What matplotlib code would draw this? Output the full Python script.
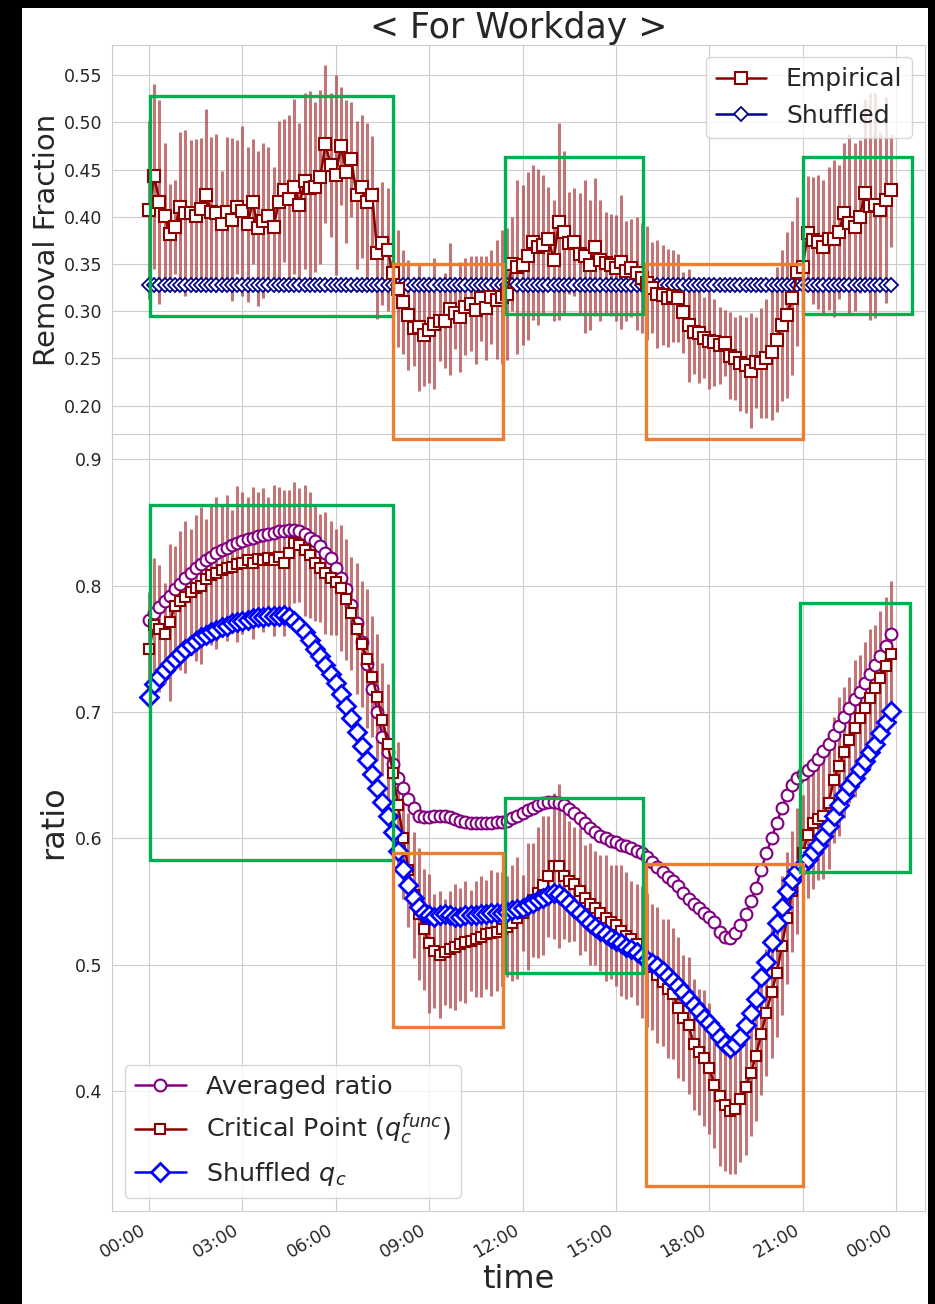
import numpy as np
import matplotlib
matplotlib.use("Agg")
import matplotlib.pyplot as plt
import seaborn as sns
from matplotlib.patches import Rectangle

# 10-minute slots over one workday
n_slots = 144
tick_hours = [0, 3, 6, 9, 12, 15, 18, 21, 24]
tick_labels = ["00:00", "03:00", "06:00", "09:00", "12:00", "15:00", "18:00", "21:00", "00:00"]

# top panel: removal fraction
empirical = [
    0.407, 0.443, 0.416, 0.401, 0.382, 0.389, 0.410, 0.404, 0.404, 0.401, 0.408, 0.423,
    0.405, 0.404, 0.392, 0.405, 0.397, 0.410, 0.406, 0.392, 0.416, 0.388, 0.396, 0.401,
    0.389, 0.416, 0.428, 0.419, 0.432, 0.413, 0.438, 0.430, 0.432, 0.442, 0.477, 0.455,
    0.444, 0.475, 0.448, 0.461, 0.423, 0.432, 0.416, 0.423, 0.362, 0.372, 0.365, 0.340,
    0.324, 0.310, 0.296, 0.282, 0.283, 0.275, 0.280, 0.287, 0.290, 0.290, 0.302, 0.298,
    0.294, 0.305, 0.308, 0.301, 0.314, 0.303, 0.315, 0.312, 0.315, 0.318, 0.350, 0.347,
    0.349, 0.359, 0.373, 0.368, 0.370, 0.377, 0.354, 0.395, 0.384, 0.372, 0.373, 0.361,
    0.358, 0.349, 0.368, 0.354, 0.351, 0.349, 0.346, 0.352, 0.343, 0.346, 0.340, 0.335,
    0.330, 0.325, 0.318, 0.317, 0.314, 0.316, 0.314, 0.299, 0.285, 0.278, 0.277, 0.272,
    0.269, 0.267, 0.264, 0.266, 0.253, 0.250, 0.245, 0.243, 0.237, 0.246, 0.245, 0.250,
    0.257, 0.270, 0.285, 0.296, 0.314, 0.342, 0.347, 0.383, 0.375, 0.373, 0.368, 0.377,
    0.377, 0.384, 0.404, 0.393, 0.389, 0.400, 0.425, 0.411, 0.412, 0.407, 0.418, 0.428,
]
empirical_err = [
    0.094, 0.098, 0.108, 0.077, 0.053, 0.050, 0.080, 0.088, 0.077, 0.081, 0.075, 0.091,
    0.080, 0.084, 0.057, 0.080, 0.086, 0.071, 0.090, 0.082, 0.066, 0.082, 0.082, 0.073,
    0.064, 0.086, 0.076, 0.089, 0.093, 0.086, 0.093, 0.103, 0.090, 0.092, 0.084, 0.076,
    0.106, 0.063, 0.076, 0.061, 0.078, 0.076, 0.083, 0.063, 0.070, 0.065, 0.065, 0.050,
    0.062, 0.055, 0.058, 0.040, 0.067, 0.054, 0.056, 0.069, 0.043, 0.050, 0.070, 0.038,
    0.058, 0.051, 0.050, 0.057, 0.045, 0.055, 0.050, 0.063, 0.071, 0.070, 0.050, 0.092,
    0.085, 0.089, 0.082, 0.083, 0.074, 0.055, 0.064, 0.104, 0.086, 0.054, 0.057, 0.064,
    0.081, 0.069, 0.073, 0.064, 0.054, 0.054, 0.056, 0.071, 0.053, 0.052, 0.060, 0.058,
    0.060, 0.048, 0.057, 0.053, 0.052, 0.049, 0.047, 0.043, 0.060, 0.044, 0.053, 0.043,
    0.051, 0.046, 0.041, 0.035, 0.046, 0.044, 0.051, 0.051, 0.061, 0.048, 0.058, 0.063,
    0.072, 0.077, 0.080, 0.088, 0.082, 0.079, 0.067, 0.060, 0.067, 0.071, 0.071, 0.076,
    0.083, 0.071, 0.074, 0.095, 0.089, 0.081, 0.100, 0.120, 0.119, 0.083, 0.109, 0.060,
]
shuffled_frac = [0.328] * n_slots

# bottom panel: ratio
avg_ratio = [
    0.773, 0.778, 0.783, 0.788, 0.792, 0.797, 0.801, 0.806, 0.810, 0.814, 0.817, 0.820,
    0.823, 0.826, 0.828, 0.830, 0.832, 0.834, 0.835, 0.837, 0.838, 0.839, 0.840, 0.841,
    0.842, 0.843, 0.843, 0.844, 0.844, 0.843, 0.841, 0.838, 0.835, 0.831, 0.826, 0.822,
    0.814, 0.806, 0.797, 0.785, 0.770, 0.755, 0.738, 0.718, 0.700, 0.680, 0.668, 0.659,
    0.648, 0.640, 0.631, 0.624, 0.618, 0.617, 0.617, 0.618, 0.618, 0.618, 0.617, 0.615,
    0.614, 0.613, 0.612, 0.612, 0.612, 0.612, 0.612, 0.613, 0.613, 0.614, 0.616, 0.618,
    0.620, 0.622, 0.624, 0.626, 0.628, 0.629, 0.629, 0.628, 0.626, 0.623, 0.620, 0.616,
    0.612, 0.608, 0.605, 0.602, 0.600, 0.598, 0.597, 0.595, 0.594, 0.592, 0.590, 0.588,
    0.585, 0.581, 0.577, 0.573, 0.569, 0.566, 0.562, 0.557, 0.552, 0.548, 0.545, 0.541,
    0.538, 0.534, 0.526, 0.522, 0.521, 0.525, 0.531, 0.540, 0.550, 0.561, 0.575, 0.588,
    0.600, 0.612, 0.624, 0.634, 0.642, 0.648, 0.651, 0.654, 0.658, 0.663, 0.669, 0.675,
    0.682, 0.689, 0.696, 0.703, 0.710, 0.716, 0.723, 0.730, 0.737, 0.744, 0.752, 0.762,
]
critical = [
    0.750, 0.769, 0.766, 0.762, 0.771, 0.784, 0.788, 0.791, 0.795, 0.798, 0.800, 0.805,
    0.808, 0.810, 0.812, 0.814, 0.815, 0.817, 0.818, 0.820, 0.818, 0.821, 0.820, 0.822,
    0.820, 0.823, 0.818, 0.826, 0.834, 0.832, 0.828, 0.824, 0.818, 0.814, 0.810, 0.806,
    0.803, 0.798, 0.789, 0.778, 0.766, 0.754, 0.742, 0.728, 0.712, 0.694, 0.675, 0.652,
    0.626, 0.600, 0.575, 0.555, 0.540, 0.528, 0.517, 0.511, 0.508, 0.510, 0.512, 0.514,
    0.516, 0.518, 0.519, 0.520, 0.522, 0.524, 0.525, 0.526, 0.528, 0.530, 0.533, 0.537,
    0.541, 0.546, 0.551, 0.557, 0.563, 0.570, 0.578, 0.578, 0.570, 0.566, 0.564, 0.558,
    0.553, 0.548, 0.545, 0.541, 0.537, 0.534, 0.531, 0.527, 0.523, 0.520, 0.516, 0.510,
    0.504, 0.498, 0.492, 0.486, 0.481, 0.477, 0.466, 0.458, 0.452, 0.437, 0.431, 0.426,
    0.418, 0.405, 0.396, 0.389, 0.384, 0.386, 0.394, 0.403, 0.414, 0.428, 0.445, 0.462,
    0.478, 0.493, 0.515, 0.537, 0.558, 0.574, 0.588, 0.603, 0.612, 0.615, 0.618, 0.628,
    0.646, 0.657, 0.668, 0.678, 0.687, 0.695, 0.703, 0.711, 0.719, 0.727, 0.736, 0.746,
]
critical_err = [
    0.045, 0.053, 0.050, 0.040, 0.062, 0.047, 0.055, 0.060, 0.050, 0.058, 0.062, 0.048,
    0.055, 0.060, 0.052, 0.058, 0.045, 0.062, 0.056, 0.050, 0.060, 0.053, 0.057, 0.048,
    0.060, 0.055, 0.058, 0.050, 0.048, 0.045, 0.052, 0.050, 0.046, 0.043, 0.048, 0.045,
    0.042, 0.050, 0.048, 0.045, 0.052, 0.050, 0.055, 0.048, 0.050, 0.045, 0.047, 0.050,
    0.050, 0.048, 0.045, 0.050, 0.052, 0.048, 0.055, 0.045, 0.050, 0.042, 0.046, 0.050,
    0.045, 0.048, 0.040, 0.046, 0.048, 0.043, 0.050, 0.047, 0.045, 0.040, 0.046, 0.048,
    0.030, 0.050, 0.045, 0.052, 0.055, 0.048, 0.058, 0.065, 0.050, 0.048, 0.045, 0.050,
    0.042, 0.048, 0.045, 0.046, 0.050, 0.045, 0.048, 0.052, 0.050, 0.046, 0.048, 0.052,
    0.053, 0.050, 0.054, 0.050, 0.055, 0.052, 0.056, 0.050, 0.054, 0.052, 0.050, 0.054,
    0.052, 0.050, 0.055, 0.052, 0.050, 0.052, 0.050, 0.054, 0.050, 0.052, 0.048, 0.050,
    0.052, 0.050, 0.055, 0.052, 0.048, 0.050, 0.046, 0.050, 0.052, 0.048, 0.050, 0.052,
    0.050, 0.055, 0.052, 0.050, 0.054, 0.050, 0.052, 0.055, 0.050, 0.053, 0.055, 0.058,
]
shuffled_qc = [
    0.712, 0.722, 0.728, 0.733, 0.738, 0.742, 0.746, 0.750, 0.753, 0.756, 0.759, 0.761,
    0.763, 0.765, 0.767, 0.768, 0.770, 0.771, 0.772, 0.773, 0.774, 0.775, 0.775, 0.776,
    0.776, 0.776, 0.777, 0.775, 0.772, 0.768, 0.763, 0.757, 0.750, 0.744, 0.737, 0.730,
    0.723, 0.714, 0.705, 0.695, 0.684, 0.673, 0.662, 0.651, 0.640, 0.629, 0.618, 0.605,
    0.590, 0.576, 0.563, 0.553, 0.546, 0.541, 0.539, 0.538, 0.539, 0.540, 0.539, 0.538,
    0.538, 0.539, 0.539, 0.539, 0.540, 0.540, 0.541, 0.541, 0.541, 0.542, 0.543, 0.544,
    0.545, 0.547, 0.549, 0.551, 0.553, 0.555, 0.557, 0.556, 0.553, 0.549, 0.545, 0.541,
    0.537, 0.533, 0.530, 0.527, 0.524, 0.521, 0.519, 0.517, 0.514, 0.512, 0.510, 0.507,
    0.504, 0.501, 0.499, 0.495, 0.491, 0.487, 0.483, 0.478, 0.473, 0.468, 0.463, 0.458,
    0.454, 0.449, 0.443, 0.437, 0.434, 0.437, 0.443, 0.452, 0.462, 0.473, 0.490, 0.502,
    0.518, 0.533, 0.546, 0.558, 0.567, 0.574, 0.579, 0.584, 0.589, 0.595, 0.602, 0.610,
    0.618, 0.626, 0.634, 0.641, 0.648, 0.655, 0.661, 0.668, 0.675, 0.683, 0.692, 0.701,
]

# highlight boxes (hours, value): x0, x1, y0, y1
top_green = [(0.03, 7.84, 0.295, 0.528), (11.44, 15.87, 0.297, 0.463), (21.0, 24.5, 0.297, 0.463)]
top_orange = [(7.84, 11.37, 0.165, 0.350), (15.97, 21.01, 0.165, 0.350)]
bot_green = [(0.03, 7.84, 0.583, 0.864), (11.44, 15.87, 0.493, 0.632), (20.91, 24.45, 0.573, 0.786)]
bot_orange = [(7.84, 11.37, 0.451, 0.588), (15.97, 21.01, 0.325, 0.580)]

GREEN = "#00b050"
ORANGE = "#ed7d31"
BAR = "#b04848"


def add_boxes(ax, boxes, color):
    for x0, x1, y0, y1 in boxes:
        ax.add_patch(Rectangle((x0, y0), x1 - x0, y1 - y0, fill=False,
                               edgecolor=color, linewidth=2.4, clip_on=False, zorder=6))


def main():
    sns.set_style("whitegrid")
    plt.rcParams["font.family"] = ["DejaVu Sans"]

    hours = np.arange(n_slots) / 6.0

    fig = plt.figure(figsize=(9.35, 13.04), dpi=100, facecolor="black")
    fig.patches.append(Rectangle((22 / 935, 0), 906 / 935, 1296 / 1304,
                                 transform=fig.transFigure, facecolor="white",
                                 edgecolor="none", zorder=-1))

    ax1 = fig.add_axes([0.1198, 0.6672, 0.8695, 0.2983])
    ax2 = fig.add_axes([0.1198, 0.0713, 0.8695, 0.5959], sharex=ax1)
    ax1.set_zorder(3)  # let the top boxes spill over the lower panel

    # top panel
    ax1.errorbar(hours, empirical, yerr=empirical_err, fmt="none",
                 ecolor=BAR, elinewidth=2.2, alpha=0.75, zorder=2)
    ax1.plot(hours, empirical, "-s", color="#8b0000", lw=1.8, ms=8,
             mfc="white", mec="#8b0000", mew=1.5, label="Empirical", zorder=4)
    ax1.plot(hours, shuffled_frac, "-D", color="#00008b", lw=1.8, ms=7,
             mfc="white", mec="#00008b", mew=1.3, label="Shuffled", zorder=3)
    add_boxes(ax1, top_green, GREEN)
    add_boxes(ax1, top_orange, ORANGE)
    ax1.set_ylim(0.17, 0.582)
    ax1.set_yticks([0.20, 0.25, 0.30, 0.35, 0.40, 0.45, 0.50, 0.55])
    ax1.set_ylabel("Removal Fraction", fontsize=21, labelpad=2)
    ax1.set_title("< For Workday >", fontsize=25, pad=3)
    ax1.legend(loc="upper right", fontsize=18, frameon=True)
    ax1.tick_params(axis="x", labelbottom=False)
    ax1.tick_params(axis="y", labelsize=12.5)

    # bottom panel
    ax2.errorbar(hours, critical, yerr=critical_err, fmt="none",
                 ecolor=BAR, elinewidth=2.2, alpha=0.75, zorder=2)
    ax2.plot(hours, avg_ratio, "-o", color="purple", lw=1.8, ms=8.5,
             mfc="white", mec="purple", mew=1.5, label="Averaged ratio", zorder=3)
    ax2.plot(hours, critical, "-s", color="#8b0000", lw=1.8, ms=7.5,
             mfc="white", mec="#8b0000", mew=1.5,
             label=r"Critical Point ($q_c^{func}$)", zorder=4)
    ax2.plot(hours, shuffled_qc, "-D", color="blue", lw=1.8, ms=9,
             mfc="white", mec="blue", mew=2, label=r"Shuffled $q_c$", zorder=5)
    add_boxes(ax2, bot_green, GREEN)
    add_boxes(ax2, bot_orange, ORANGE)
    ax2.set_ylim(0.305, 0.92)
    ax2.set_yticks([0.4, 0.5, 0.6, 0.7, 0.8, 0.9])
    ax2.set_ylabel("ratio", fontsize=23)
    ax2.set_xlabel("time", fontsize=23, labelpad=2)
    ax2.legend(loc="lower left", fontsize=18.3, frameon=True)
    ax2.tick_params(axis="y", labelsize=12.5)

    ax2.set_xlim(-1.19, 24.93)
    ax2.set_xticks(tick_hours)
    ax2.set_xticklabels(tick_labels, rotation=30, ha="right", fontsize=12.5)

    fig.savefig("out.png", dpi=100, facecolor=fig.get_facecolor())
    plt.close(fig)


if __name__ == "__main__":
    main()
